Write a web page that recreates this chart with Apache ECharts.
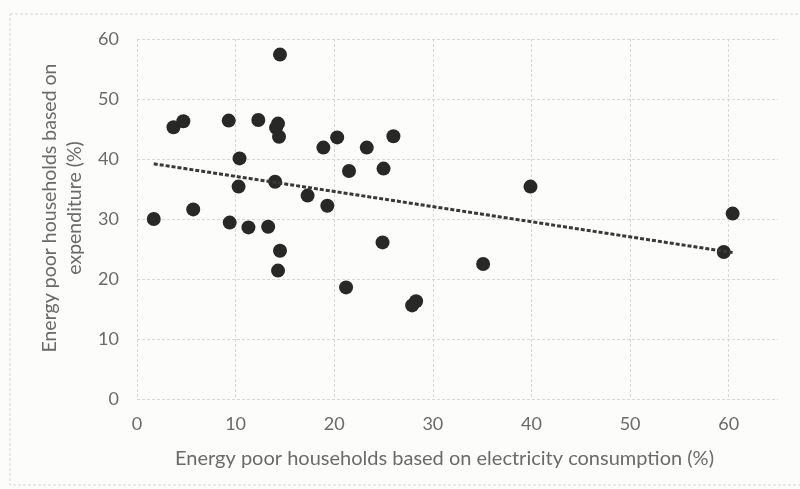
<!DOCTYPE html>
<html>
<head>
<meta charset="utf-8">
<script src="https://cdn.jsdelivr.net/npm/echarts@6/dist/echarts.min.js"></script>
<style>
  html, body { margin: 0; padding: 0; background: #fcfcfa; }
  #main { width: 800px; height: 489px; }
</style>
</head>
<body>
<div id="main"></div>
<script>
// electricity-based share (x) and expenditure-based share (y), one entry per point
const elecShare = [1.7, 3.7, 4.7, 5.7, 9.3, 9.4, 10.4, 10.3, 11.3, 12.3, 13.3, 14.0, 14.1, 14.3, 14.4, 14.5, 14.5, 14.3,
  17.3, 19.3, 18.9, 20.3, 21.5, 21.2, 23.3, 25.0, 24.9, 26.0, 27.9, 28.3, 35.1, 39.9, 59.5, 60.4];
const expShare = [30.0, 45.3, 46.3, 31.6, 46.4, 29.4, 40.1, 35.4, 28.6, 46.5, 28.7, 36.2, 45.2, 45.9, 43.7, 57.4, 24.7, 21.4,
  33.9, 32.2, 41.9, 43.6, 38.0, 18.6, 41.9, 38.4, 26.1, 43.8, 15.6, 16.3, 22.5, 35.4, 24.5, 30.9];
// linear trendline ends
const trendX = [1.7, 60.4];
const trendY = [39.2, 24.4];

const xAxisName = "Energy poor households based on electricity consumption (%)";
const yAxisName = "Energy poor households based on\nexpenditure (%)";

const points = elecShare.map((x, i) => [x, expShare[i]]);
const trend = trendX.map((x, i) => [x, trendY[i]]);

const font = "Lato, 'Open Sans', sans-serif";
const textColor = "#6a6a6a";
const gridColor = "#d8d8d8";

const chart = echarts.init(document.getElementById("main"));
chart.setOption({
  backgroundColor: "#fcfcfa",
  animation: false,
  textStyle: { fontFamily: font },
  graphic: [
    {
      type: "rect",
      shape: { x: 10, y: 14, width: 800, height: 471 },
      style: { fill: null, stroke: "#d6d6d6", lineWidth: 1, lineDash: [3, 2] },
      silent: true,
    },
  ],
  grid: { left: 137, right: 22, top: 39, bottom: 90 },
  xAxis: {
    type: "value",
    min: 0,
    max: 65,
    interval: 10,
    name: xAxisName,
    nameLocation: "middle",
    nameGap: 50,
    nameTextStyle: { color: textColor, fontSize: 20, fontFamily: font, padding: [0, 26, 0, 0] },
    axisLine: { show: false },
    axisTick: { show: false },
    axisLabel: { color: textColor, fontSize: 18, margin: 16, showMaxLabel: false },
    splitLine: {
      show: true,
      showMaxLine: false,
      lineStyle: { color: gridColor, type: [3, 2] },
    },
  },
  yAxis: {
    type: "value",
    min: 0,
    max: 60,
    interval: 10,
    name: yAxisName,
    nameLocation: "middle",
    nameGap: 50,
    nameTextStyle: {
      color: textColor,
      fontSize: 19.5,
      fontFamily: font,
      lineHeight: 25,
      padding: [0, 0, 0, 22],
    },
    axisLine: { show: false },
    axisTick: { show: false },
    axisLabel: { color: textColor, fontSize: 18, margin: 18 },
    splitLine: {
      show: true,
      lineStyle: { color: gridColor, type: [3, 2] },
    },
  },
  series: [
    {
      name: "households",
      type: "scatter",
      data: points,
      symbolSize: 14,
      itemStyle: { color: "#282828", opacity: 1 },
      z: 3,
    },
    {
      name: "trend",
      type: "line",
      data: trend,
      symbol: "none",
      lineStyle: { color: "#383838", width: 3, type: [4, 2] },
      z: 4,
    },
  ],
});
</script>
</body>
</html>
